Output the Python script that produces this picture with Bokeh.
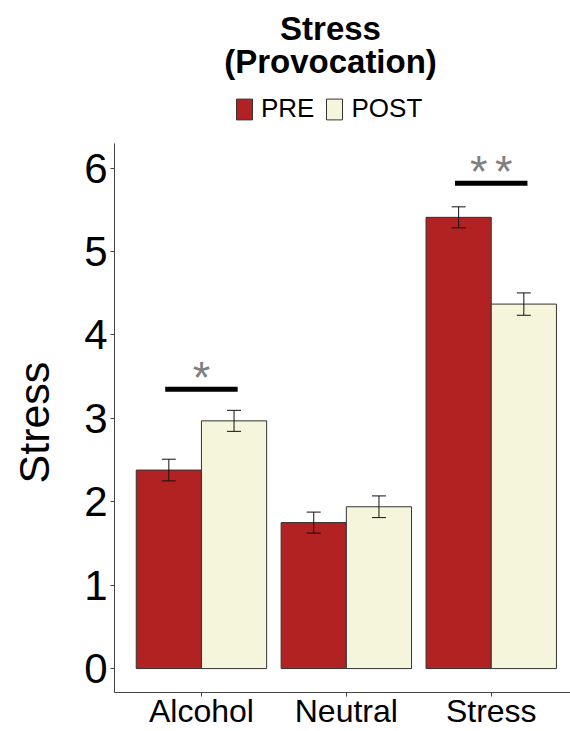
from bokeh.plotting import figure
from bokeh.models import (ColumnDataSource, Range1d, FixedTicker, Legend, LegendItem,
                          Label, Whisker, TeeHead, Title)
from bokeh.transform import dodge
from bokeh.core.properties import value
from bokeh.embed import file_html
from bokeh.resources import INLINE

# ---- data ----
categories = ["Alcohol", "Neutral", "Stress"]
groups = ["PRE", "POST"]
pre_mean = [2.38, 1.75, 5.41]
pre_se = [0.13, 0.126, 0.126]
post_mean = [2.97, 1.94, 4.37]
post_se = [0.126, 0.13, 0.134]
sig_category = ["Alcohol", "Stress"]
sig_labels = ["*", "*\u2006*"]
sig_y = [3.35, 5.82]
y_ticks = [0, 1, 2, 3, 4, 5, 6]

FONT = "Liberation Sans"
PRE_COLOR = "#B22222"
POST_COLOR = "#F5F5DC"

xs = [i + 1 for i in range(len(categories))]
src = ColumnDataSource(dict(
    x=xs,
    pre=pre_mean,
    post=post_mean,
    pre_lo=[m - s for m, s in zip(pre_mean, pre_se)],
    pre_hi=[m + s for m, s in zip(pre_mean, pre_se)],
    post_lo=[m - s for m, s in zip(post_mean, post_se)],
    post_hi=[m + s for m, s in zip(post_mean, post_se)],
))
sig_src = ColumnDataSource(dict(
    x=[categories.index(c) + 1 for c in sig_category],
    y=sig_y,
    label=sig_labels,
))

Y0, Y1 = -0.287, 6.29
p = figure(width=570, height=731,
           x_range=Range1d(0.4, 3.547), y_range=Range1d(Y0, 8.01),
           output_backend="svg", toolbar_location=None,
           min_border_left=114, min_border_top=0, min_border_bottom=38,
           min_border_right=0)
p.outline_line_color = None
p.xgrid.visible = False
p.ygrid.visible = False
p.background_fill_color = "white"

r_pre = p.vbar(x=dodge("x", -0.225, range=p.x_range), top="pre", bottom=0, width=0.45,
               source=src, fill_color=PRE_COLOR, line_color="#333333", line_width=1)
r_post = p.vbar(x=dodge("x", 0.225, range=p.x_range), top="post", bottom=0, width=0.45,
                source=src, fill_color=POST_COLOR, line_color="#333333", line_width=1)

for off, lo, hi in [(-0.225, "pre_lo", "pre_hi"), (0.225, "post_lo", "post_hi")]:
    w = Whisker(source=src, base=dodge("x", off, range=p.x_range), lower=lo, upper=hi,
                line_color="#111111", line_width=1, level="overlay",
                upper_head=TeeHead(size=14, line_color="#111111", line_width=1),
                lower_head=TeeHead(size=14, line_color="#111111", line_width=1))
    p.add_layout(w)

p.segment(x0=dodge("x", -0.25, range=p.x_range), x1=dodge("x", 0.25, range=p.x_range),
          y0="y", y1="y", source=sig_src, line_color="black", line_width=5)
p.text(x="x", y="y", text="label", source=sig_src, text_font=value(FONT),
       text_font_size="45px", text_color="#808080", text_align="center",
       text_baseline="alphabetic", y_offset=-12)

# axes
p.xaxis.ticker = FixedTicker(ticks=xs)
p.xaxis.major_label_overrides = {x: c for x, c in zip(xs, categories)}
p.yaxis.ticker = FixedTicker(ticks=y_ticks)
p.yaxis.bounds = (Y0, Y1)
for ax in (p.xaxis, p.yaxis):
    ax.axis_line_color = "#444444"
    ax.axis_line_width = 1
    ax.major_tick_line_color = "#444444"
    ax.major_tick_in = 0
    ax.major_tick_out = 4
    ax.minor_tick_line_color = None
    ax.major_label_text_font = FONT
    ax.major_label_text_color = "black"
p.xaxis.major_label_text_font_size = "32px"
p.xaxis.major_label_standoff = -4
p.yaxis.major_label_text_font_size = "42px"
p.yaxis.major_label_standoff = 3
# blank spacer label to push the y title outward
p.yaxis.axis_label = " "
p.yaxis.axis_label_text_font_size = "1px"
p.yaxis.axis_label_standoff = 14

# y-axis title (centred on the axis line, not the frame)
p.add_layout(Title(text="Stress", align="left", offset=209, standoff=12,
                   text_font=FONT, text_font_size="43px", text_font_style="normal",
                   text_color="black"), "left")

# title
for txt, yy in [("Stress", 664), ("(Provocation)", 631)]:
    p.add_layout(Label(x=216, y=yy, x_units="screen", y_units="screen", text=txt,
                       text_font=FONT, text_font_size="33px", text_font_style="bold",
                       text_color="black", text_align="center",
                       text_baseline="alphabetic"))

legend = Legend(items=[LegendItem(label=groups[0], renderers=[r_pre]),
                       LegendItem(label=groups[1], renderers=[r_post])],
                orientation="horizontal", location=(120, 568),
                glyph_width=20, glyph_height=26, label_standoff=7, spacing=10,
                padding=0, margin=0, border_line_color=None,
                background_fill_alpha=0, label_text_font=FONT,
                label_text_font_size="26px", label_text_color="black")
p.add_layout(legend)

open("out.html", "w").write(file_html(p, INLINE))
